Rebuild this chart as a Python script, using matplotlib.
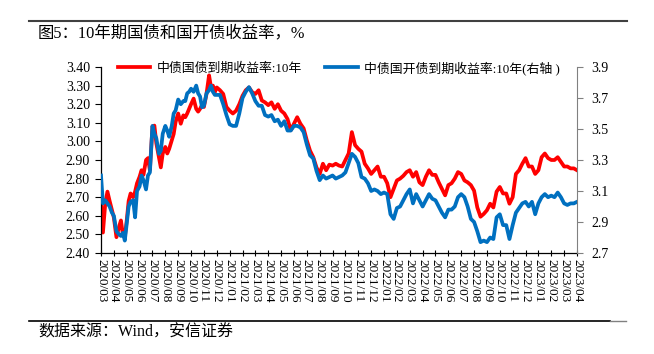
import matplotlib
matplotlib.use("Agg")
import matplotlib.pyplot as plt
from matplotlib.lines import Line2D

# month index (0 = 2020/03)
months = [0.00, 0.15, 0.33, 0.50, 0.67, 0.85, 1.00, 1.20, 1.40, 1.55, 1.70, 1.85,
          2.00, 2.15, 2.30, 2.50, 2.65, 2.80, 3.00, 3.15, 3.30, 3.50, 3.65, 3.80,
          4.00, 4.15, 4.30, 4.50, 4.65, 4.80, 5.00, 5.15, 5.30, 5.50, 5.65, 5.80,
          6.00, 6.20, 6.40, 6.55, 6.70, 6.85, 7.00, 7.20, 7.40, 7.55, 7.70, 7.85,
          8.00, 8.20, 8.40, 8.55, 8.70, 8.85,
          9.00, 9.25, 9.50, 9.75, 10.00, 10.25, 10.50, 10.75, 11.00, 11.25, 11.50, 11.75,
          12.00, 12.25, 12.50, 12.75, 13.00, 13.25, 13.50, 13.75, 14.00, 14.25, 14.50, 14.75,
          15.00, 15.25, 15.50, 15.75, 16.00, 16.25, 16.50, 16.75, 17.00, 17.25, 17.50, 17.75,
          18.00, 18.25, 18.50, 18.75, 19.00, 19.25, 19.50, 19.75, 20.00, 20.25, 20.50, 20.75,
          21.00, 21.25, 21.50, 21.75, 22.00, 22.25, 22.50, 22.75, 23.00, 23.25, 23.50, 23.75,
          24.00, 24.25, 24.50, 24.75, 25.00, 25.25, 25.50, 25.75, 26.00, 26.25, 26.50, 26.75,
          27.00, 27.25, 27.50, 27.75, 28.00, 28.25, 28.50, 28.75, 29.00, 29.25, 29.50, 29.75,
          30.00, 30.25, 30.50, 30.75, 31.00, 31.25, 31.50, 31.75, 32.00, 32.25, 32.50, 32.75,
          33.00, 33.25, 33.50, 33.75, 34.00, 34.25, 34.50, 34.75, 35.00, 35.25, 35.50, 35.75,
          36.00, 36.25, 36.50, 36.75, 37.00]

# 中债国债到期收益率:10年 (left axis)
gov_10y = [2.665, 2.51, 2.665, 2.73, 2.68, 2.63, 2.59, 2.485, 2.54, 2.575, 2.50, 2.485,
           2.575, 2.68, 2.72, 2.70, 2.73, 2.775, 2.81, 2.845, 2.82, 2.90, 2.91, 2.845,
           3.08, 3.085, 2.99, 2.915, 2.86, 2.935, 2.97, 2.935, 2.96, 3.005, 3.04, 3.105,
           3.15, 3.095, 3.14, 3.13, 3.15, 3.175, 3.20, 3.23, 3.175, 3.16, 3.175, 3.195,
           3.185, 3.255, 3.355, 3.29, 3.30, 3.265,
           3.29, 3.275, 3.255, 3.185, 3.165, 3.15, 3.165, 3.20, 3.245, 3.275, 3.29, 3.265,
           3.255, 3.275, 3.22, 3.21, 3.195, 3.21, 3.175, 3.20, 3.165, 3.15, 3.12, 3.06,
           3.095, 3.13, 3.095, 3.07, 3.005, 2.95, 2.915, 2.86, 2.825, 2.88, 2.845, 2.875,
           2.87, 2.88, 2.87, 2.865, 2.90, 2.935, 3.05, 2.98, 2.96, 2.945, 2.88, 2.855,
           2.825, 2.845, 2.865, 2.81, 2.81, 2.775, 2.70, 2.745, 2.79, 2.80, 2.815, 2.835,
           2.845, 2.81, 2.835, 2.78, 2.765, 2.81, 2.845, 2.82, 2.82, 2.78, 2.745, 2.71,
           2.765, 2.775, 2.80, 2.835, 2.825, 2.79, 2.78, 2.765, 2.735, 2.645, 2.595, 2.61,
           2.63, 2.665, 2.645, 2.73, 2.755, 2.72, 2.72, 2.665, 2.70, 2.825, 2.845, 2.88,
           2.91, 2.865, 2.865, 2.825, 2.845, 2.915, 2.935, 2.91, 2.90, 2.90, 2.915, 2.89,
           2.865, 2.865, 2.855, 2.855, 2.845]

# 中债国开债到期收益率:10年 (right axis)
cdb_10y = [3.20, 3.02, 3.04, 3.02, 3.00, 2.96, 2.94, 2.84, 2.82, 2.81, 2.83, 2.78,
           2.89, 3.00, 3.03, 3.04, 2.93, 3.10, 3.13, 3.20, 3.17, 3.11, 3.20, 3.22,
           3.52, 3.47, 3.44, 3.34, 3.36, 3.47, 3.52, 3.49, 3.45, 3.52, 3.60, 3.62,
           3.69, 3.66, 3.68, 3.68, 3.73, 3.74, 3.76, 3.74, 3.78, 3.73, 3.71, 3.64,
           3.65, 3.73, 3.75, 3.78, 3.74, 3.72,
           3.72, 3.72, 3.66, 3.59, 3.53, 3.52, 3.52, 3.60, 3.70, 3.74, 3.77, 3.73,
           3.68, 3.65, 3.65, 3.59, 3.58, 3.59, 3.55, 3.56, 3.52, 3.55, 3.49, 3.49,
           3.52, 3.52, 3.51, 3.48, 3.40, 3.33, 3.31, 3.23, 3.17, 3.20, 3.18, 3.19,
           3.20, 3.18, 3.19, 3.20, 3.22, 3.28, 3.34, 3.32, 3.28, 3.19, 3.18, 3.15,
           3.10, 3.11, 3.10, 3.08, 3.09, 3.08, 2.95, 2.92, 2.99, 3.00, 3.04, 3.08,
           3.11, 3.02, 3.08, 3.04, 3.00, 3.04, 3.08, 3.05, 3.04, 3.00, 2.96, 2.93,
           2.98, 2.98, 3.00, 3.06, 3.08, 3.06, 3.00, 2.92, 2.90, 2.84, 2.77, 2.78,
           2.77, 2.80, 2.79, 2.93, 2.95, 2.88, 2.88, 2.79, 2.88, 2.96, 2.99, 3.02,
           3.03, 3.00, 3.03, 2.95, 3.02, 3.06, 3.08, 3.06, 3.07, 3.06, 3.09, 3.06,
           3.02, 3.01, 3.02, 3.02, 3.03]

tick_labels = ["2020/03", "2020/04", "2020/05", "2020/06", "2020/07", "2020/08", "2020/09",
               "2020/10", "2020/11", "2020/12", "2021/01", "2021/02", "2021/03", "2021/04",
               "2021/05", "2021/06", "2021/07", "2021/08", "2021/09", "2021/10", "2021/11",
               "2021/12", "2022/01", "2022/02", "2022/03", "2022/04", "2022/05", "2022/06",
               "2022/07", "2022/08", "2022/09", "2022/10", "2022/11", "2022/12", "2023/01",
               "2023/02", "2023/03", "2023/04"]
left_ticks = [2.40, 2.50, 2.60, 2.70, 2.80, 2.90, 3.00, 3.10, 3.20, 3.30, 3.40]
right_ticks = [2.7, 2.9, 3.1, 3.3, 3.5, 3.7, 3.9]

W, H = 654, 354
serif_cjk = ["Liberation Serif", "Noto Sans CJK SC"]

fig = plt.figure(figsize=(W / 100, H / 100), dpi=100)
ax = fig.add_axes([101 / W, 1 - 253 / H, 476 / W, 186 / H])
ax2 = ax.twinx()

l1, = ax.plot(months, gov_10y, color="#FF0000", lw=2.7, solid_joinstyle="round")
l2, = ax2.plot(months, cdb_10y, color="#0070C0", lw=2.7, solid_joinstyle="round")

ax.set_xlim(0, 37)
ax.set_ylim(2.40, 3.40)
ax2.set_ylim(2.7, 3.9)

ax.set_xticks(range(len(tick_labels)))
ax.set_xticklabels(tick_labels, rotation=-90, family="Liberation Serif", fontsize=9.5)
ax.set_yticks(left_ticks)
ax.set_yticklabels(["%.2f" % v for v in left_ticks], family="Liberation Serif", fontsize=10)
ax2.set_yticks(right_ticks)
ax2.set_yticklabels(["%.1f" % v for v in right_ticks], family="Liberation Serif", fontsize=10)

ax.tick_params(axis="x", direction="inout", length=5, width=0.8, pad=2)
ax.tick_params(axis="y", direction="out", length=4, width=0.8, pad=4)
ax2.tick_params(axis="y", direction="out", length=4, width=0.8, color="#808080", pad=6)

for a in (ax, ax2):
    a.spines["top"].set_visible(False)
ax2.spines["left"].set_visible(False)
ax2.spines["bottom"].set_visible(False)
ax2.spines["right"].set_color("#808080")
ax.spines["right"].set_visible(False)
ax.spines["left"].set_linewidth(0.9)
ax.spines["bottom"].set_linewidth(0.9)

fig.legend([l1, l2], ["中债国债到期收益率:10年", "中债国开债到期收益率:10年(右轴 )"],
           ncol=2, frameon=False, loc="center left",
           bbox_to_anchor=(113 / W, 1 - 68 / H),
           prop={"family": serif_cjk, "size": 9.3},
           handlelength=2.5, handletextpad=0.5, columnspacing=1.8, borderaxespad=0)

fig.text(38 / W, 1 - 33 / H, "图5：10年期国债和国开债收益率，%", ha="left", va="center",
         family=serif_cjk, fontsize=11.8)
fig.text(38 / W, 1 - 333 / H, "数据来源：Wind，安信证券", ha="left", va="center",
         family=serif_cjk, fontsize=11.5)

fig.add_artist(Line2D([29 / W, 627 / W], [1 - 21 / H] * 2, color="#404040", lw=1.5))
fig.add_artist(Line2D([29 / W, 610 / W], [1 - 321 / H] * 2, color="black", lw=1.2))
fig.add_artist(Line2D([610 / W, 626 / W], [1 - 321 / H] * 2, color="#808080", lw=1.0))

fig.savefig("out.png", dpi=100)
